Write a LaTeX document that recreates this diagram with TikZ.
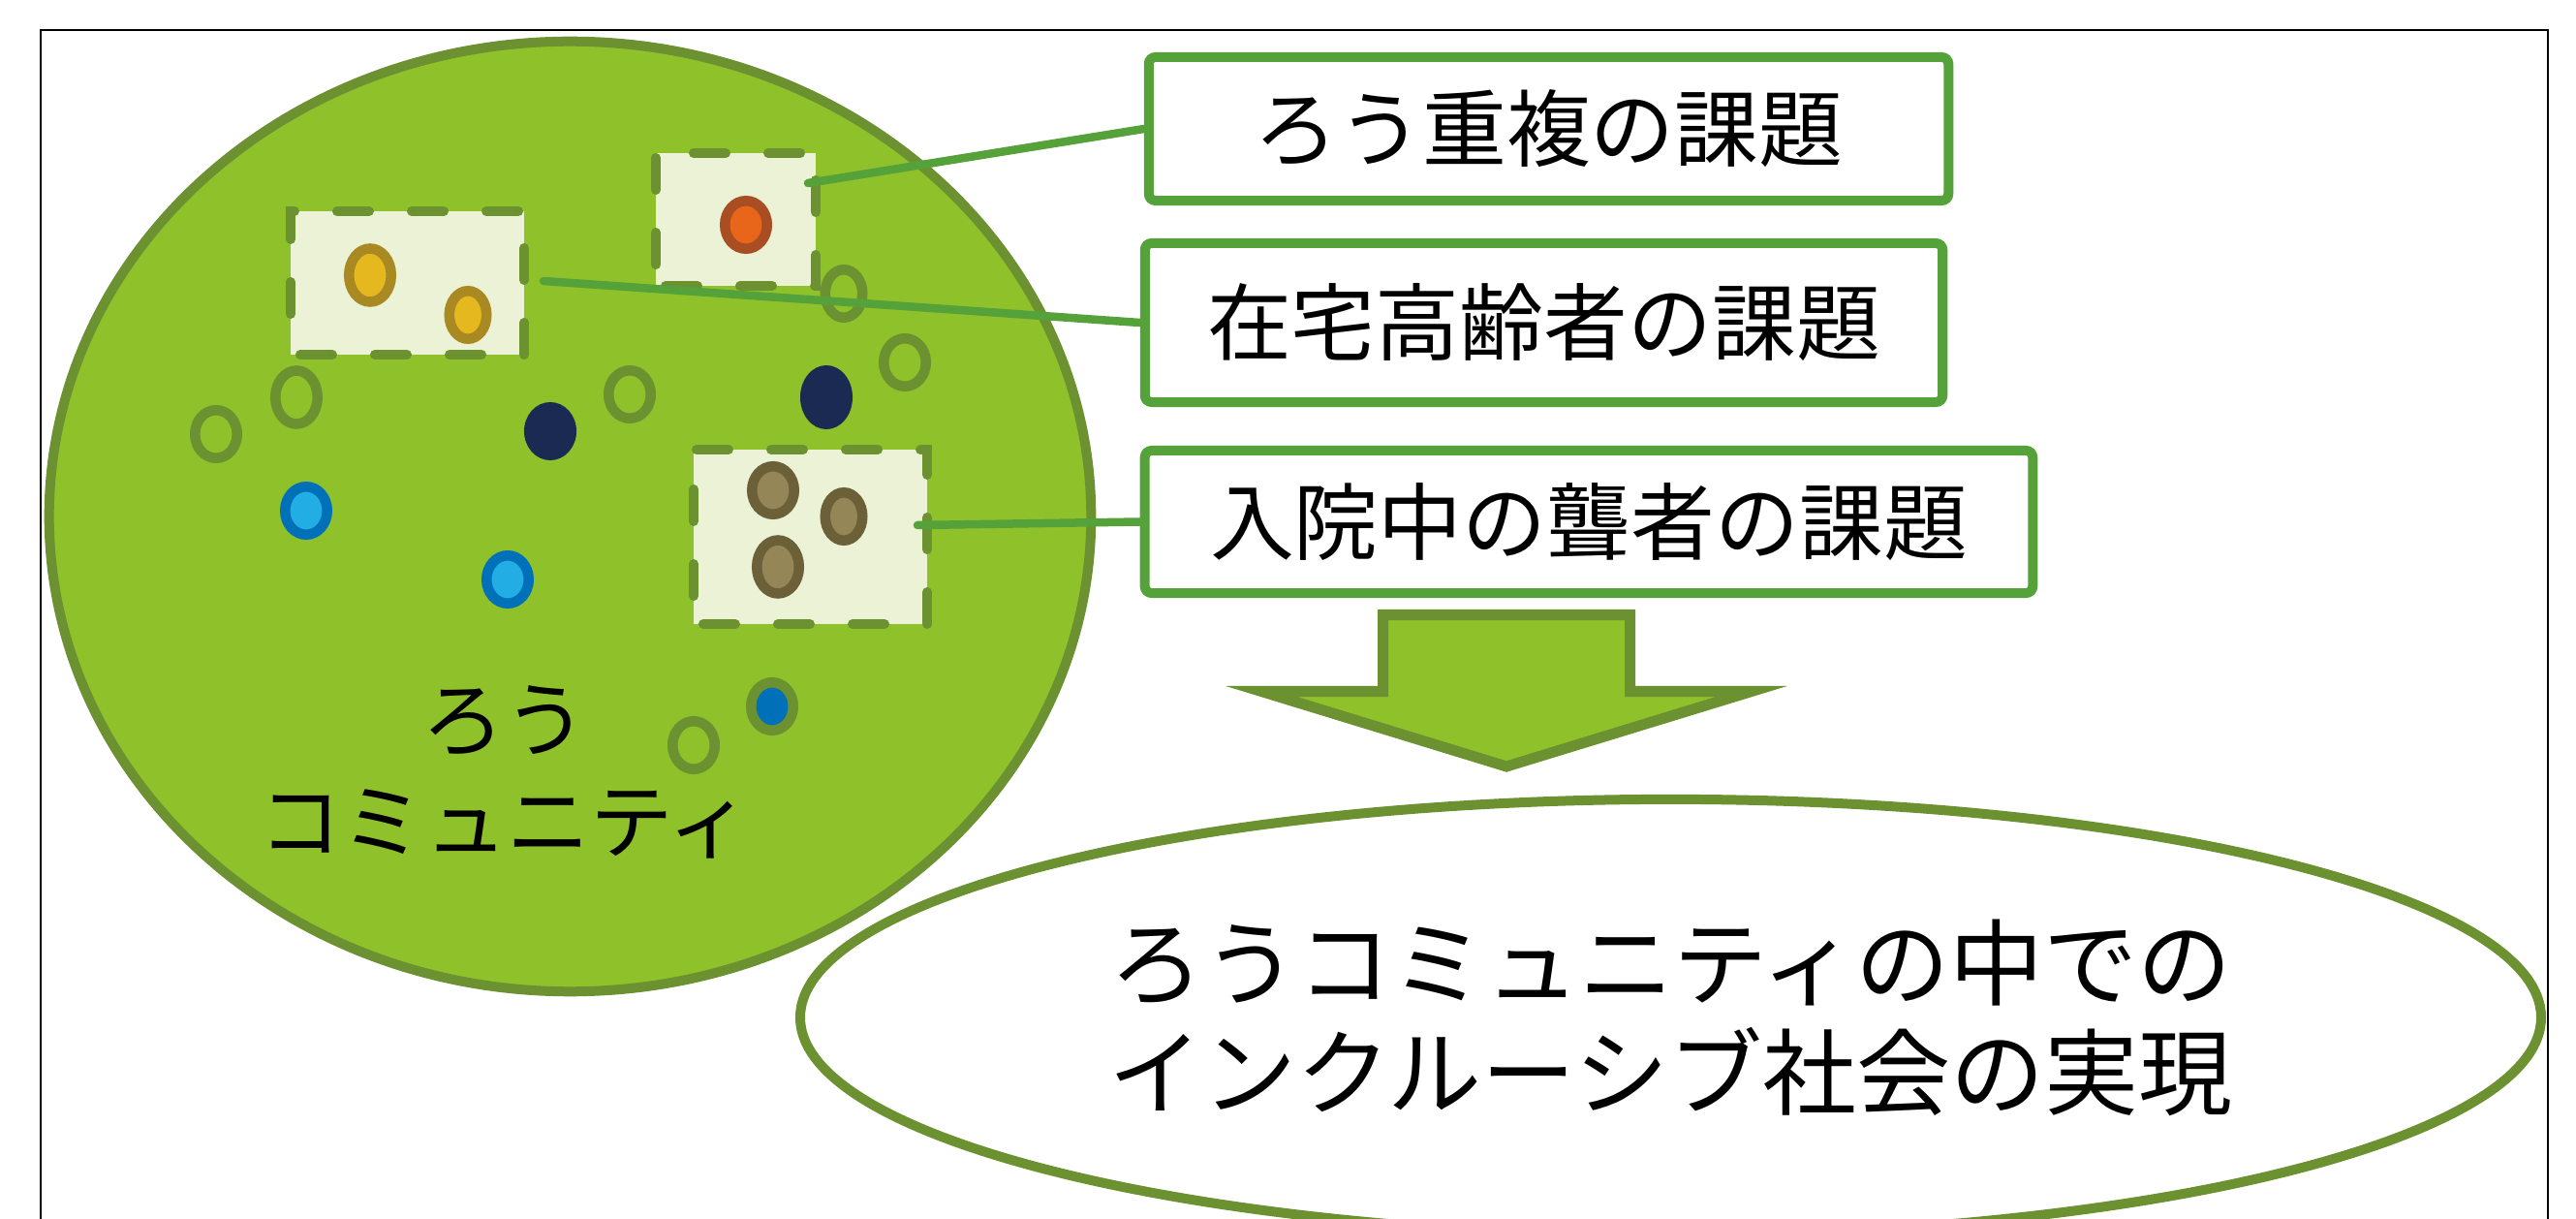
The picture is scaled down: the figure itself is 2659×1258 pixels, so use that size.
\documentclass[tikz,border=0pt]{standalone}
\usepackage{fontspec}
\newfontfamily\jp{Noto Sans CJK JP}
\usetikzlibrary{shapes.geometric}
\definecolor{grass}{RGB}{143,193,43}
\definecolor{olive}{RGB}{107,145,49}
\definecolor{lgreen}{RGB}{86,162,58}
\definecolor{cream}{RGB}{235,242,213}
\definecolor{yfill}{RGB}{230,184,32}
\definecolor{yring}{RGB}{169,138,34}
\definecolor{ofill}{RGB}{232,102,26}
\definecolor{oring}{RGB}{168,78,34}
\definecolor{navy}{RGB}{27,42,82}
\definecolor{bfill}{RGB}{34,173,228}
\definecolor{bring}{RGB}{0,112,184}
\definecolor{brfill}{RGB}{148,134,86}
\definecolor{brring}{RGB}{107,96,56}
\tikzset{
  dot/.style={ellipse, inner sep=0pt, outer sep=0pt, line width=0.105cm, minimum width=0.435cm, minimum height=0.495cm},
  tall/.style={minimum height=0.55cm},
  narrow/.style={minimum width=0.385cm},
  ringdot/.style={dot, draw=olive},
  ydot/.style={dot, draw=yring, fill=yfill},
  odot/.style={dot, draw=oring, fill=ofill},
  bdot/.style={dot, draw=bring, fill=bfill},
  brdot/.style={dot, draw=brring, fill=brfill},
  dbdot/.style={dot, draw=olive, fill=bring},
  navydot/.style={ellipse, inner sep=0pt, outer sep=0pt, fill=navy, minimum width=0.54cm, minimum height=0.60cm},
  issuebox/.style={rectangle, draw=olive, fill=cream, line width=0.1cm, line cap=round, dash pattern=on 0.33cm off 0.44cm, dash phase=-0.1cm, inner sep=0pt},
  issuelabel/.style={rectangle, draw=lgreen, fill=white, line width=0.1cm, rounded corners=2pt, inner sep=0pt, font=\jp\fontsize{24.7}{30}\selectfont},
  connector/.style={draw=lgreen, line width=0.085cm, line cap=round},
}
\begin{document}
\begin{tikzpicture}[x=0.01cm,y=-0.01cm]
\useasboundingbox (0,0) rectangle (2659,1258);
\fill[white] (0,0) rectangle (2659,1258);
\clip (0,0) rectangle (2659,1258);
% frame
\draw[line width=0.02cm, black] (42,31) rectangle (2630,1320);
% community
\node[ellipse, draw=olive, fill=grass, line width=0.1cm, inner sep=0pt, minimum width=10.75cm, minimum height=9.8cm] (comm) at (588.5,533) {};
\node[align=center, font=\jp\fontsize{24.3}{30}\selectfont, inner sep=0pt] (commtext) at (521,797) {ろう\\コミュニティ};
% outcome
\node[ellipse, draw=olive, fill=white, line width=0.1cm, inner sep=0pt, minimum width=17.96cm, minimum height=4.5cm, align=center, font=\jp\fontsize{27.6}{32.1}\selectfont] (goal) at (1724.5,1050) {ろうコミュニティの中での\\インクルーシブ社会の実現};
% arrow
\draw[fill=grass, draw=olive, line width=0.11cm] (1427.5,634.5) -- (1682.5,634.5) -- (1682.5,713.5) -- (1808,713.5) -- (1555,791) -- (1302,713.5) -- (1427.5,713.5) -- cycle;
% issue boxes
\node[issuebox, minimum width=2.41cm, minimum height=1.48cm] (box1) at (420.5,292) {};
\node[issuebox, minimum width=1.65cm, minimum height=1.37cm] (box2) at (759.5,226.5) {};
\node[issuebox, minimum width=2.41cm, minimum height=1.80cm] (box3) at (836.5,554) {};
% dots
\node[ydot, tall] (y1) at (382,284) {};
\node[ydot, narrow] (y2) at (483,325) {};
\node[odot] (o1) at (770,232) {};
\node[ringdot] (r1) at (223,448) {};
\node[ringdot, tall] (r2) at (306,410) {};
\node[ringdot] (r3) at (650,407) {};
\node[ringdot, narrow] (r4) at (871,303) {};
\node[ringdot] (r5) at (934,374) {};
\node[ringdot] (r6) at (716,769) {};
\node[navydot] (n1) at (568,445) {};
\node[navydot, minimum height=0.66cm] (n2) at (853,410) {};
\node[bdot] (b1) at (316,527) {};
\node[bdot] (b2) at (524,598) {};
\node[dbdot] (db) at (797,729) {};
\node[brdot] (br1) at (798,506) {};
\node[brdot, narrow] (br2) at (871,533) {};
\node[brdot, tall] (br3) at (803,585) {};
% labels
\node[issuelabel, minimum width=8.25cm, minimum height=1.48cm] (lab1) at (1598.5,133) {ろう重複の課題};
\node[issuelabel, minimum width=8.23cm, minimum height=1.64cm] (lab2) at (1593.5,333) {在宅高齢者の課題};
\node[issuelabel, minimum width=9.16cm, minimum height=1.47cm] (lab3) at (1640,538.5) {入院中の聾者の課題};
% connectors
\coordinate (s1) at (834,189);
\coordinate (s2) at (561,290);
\coordinate (s3) at (947,542);
\draw[connector] (s1) -- (lab1.west);
\draw[connector] (s2) -- (lab2.west);
\draw[connector] (s3) -- (lab3.west);
\end{tikzpicture}
\end{document}
